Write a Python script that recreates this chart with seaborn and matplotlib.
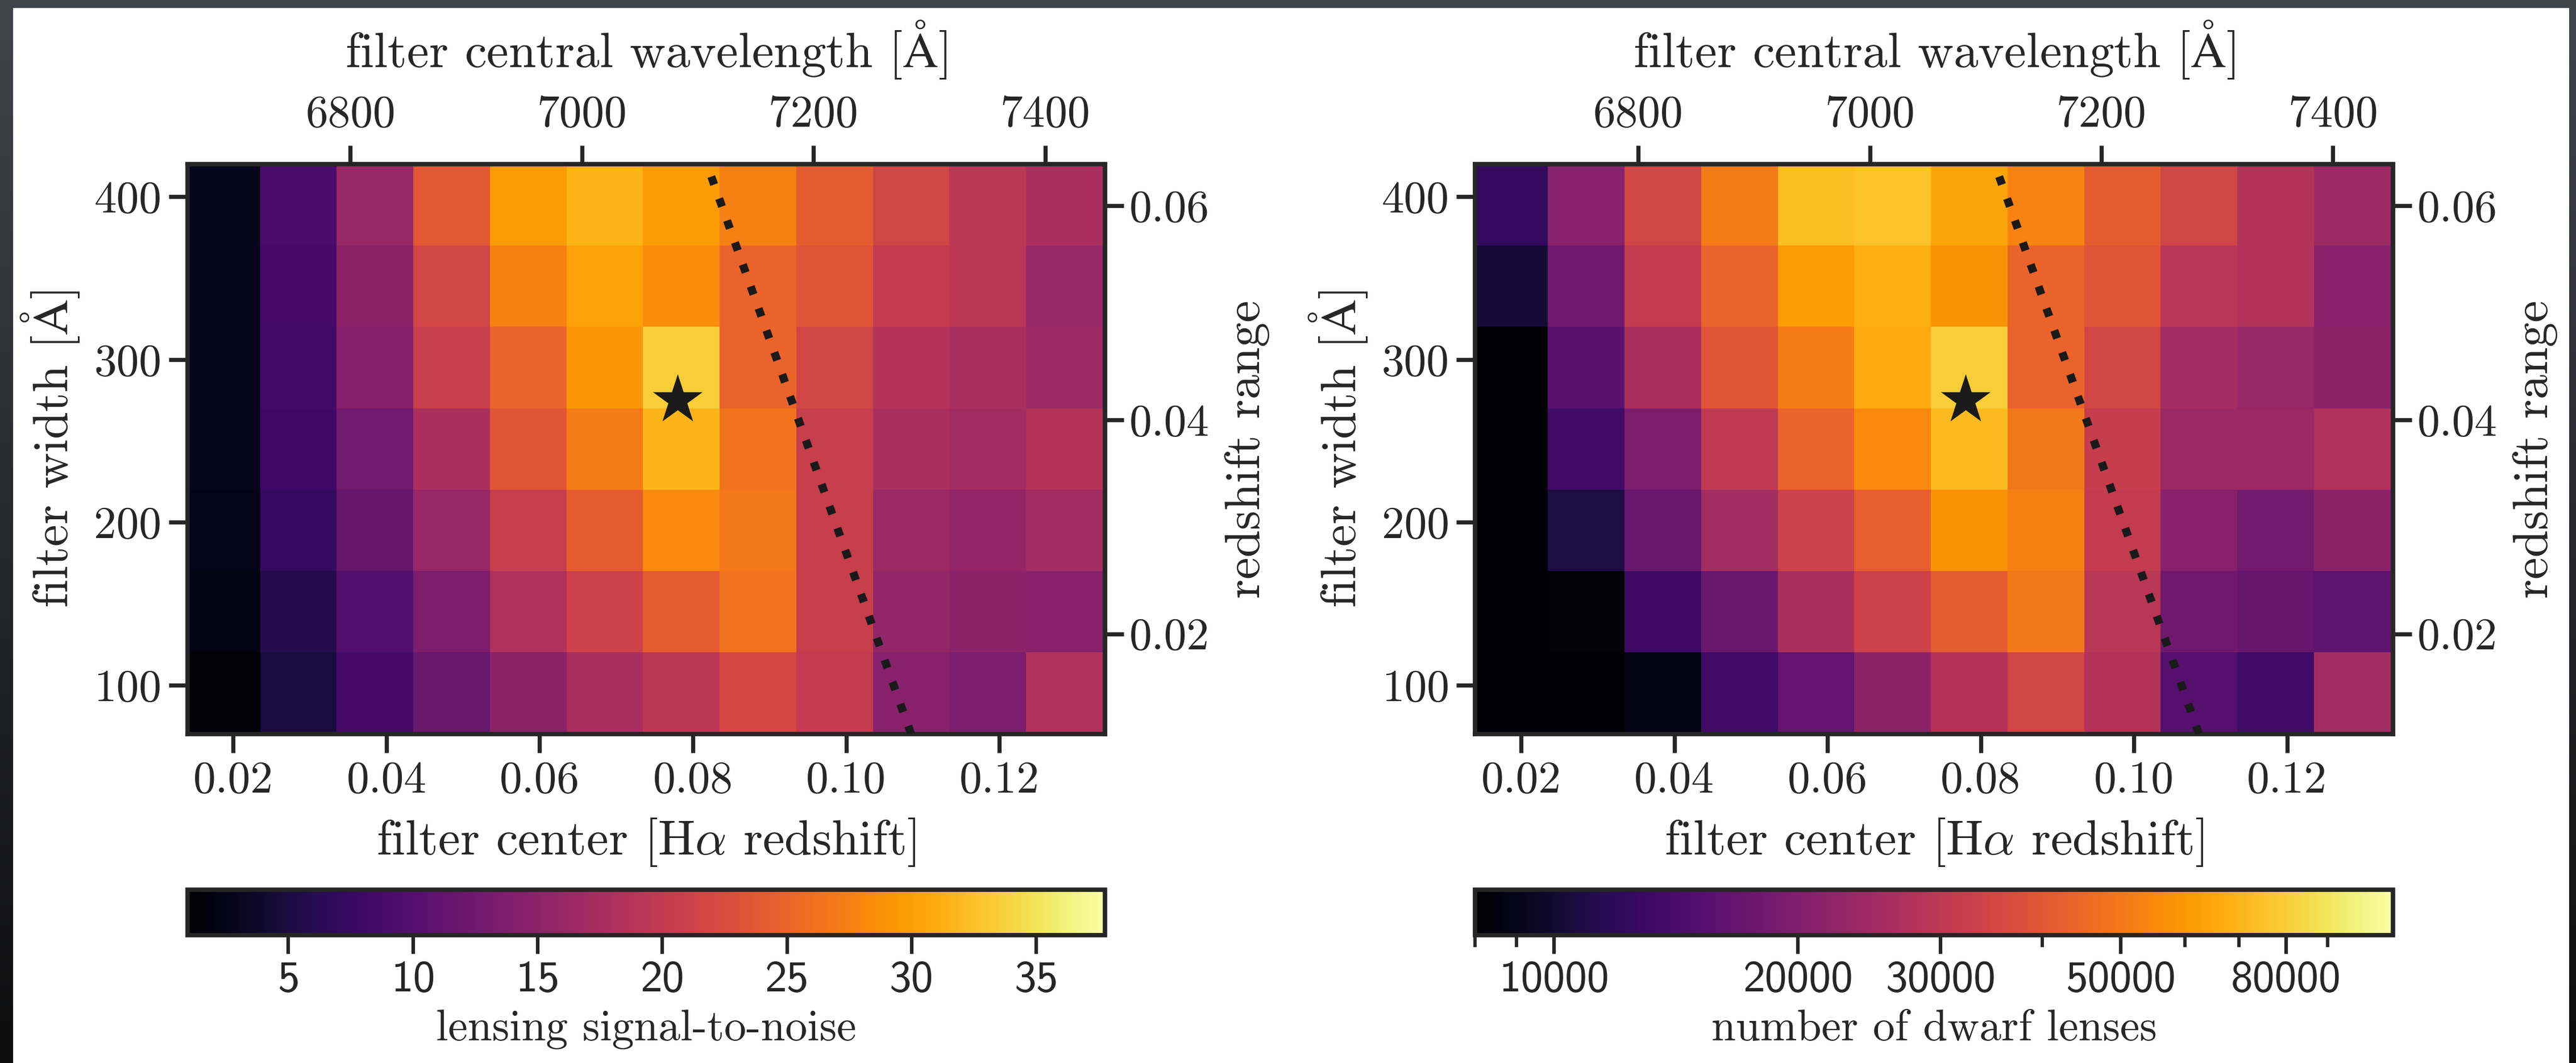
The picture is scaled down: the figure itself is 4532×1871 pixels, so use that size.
import numpy as np
import matplotlib
matplotlib.use("Agg")
import matplotlib.pyplot as plt
from matplotlib.colors import Normalize, LogNorm, LinearSegmentedColormap
from matplotlib.ticker import LogLocator, NullFormatter, NullLocator
from matplotlib.patches import Rectangle
from matplotlib.mathtext import MathTextParser
import seaborn as sns

# ------------------------------------------------------------------ data
z_centers = [0.0185, 0.0285, 0.0385, 0.0485, 0.0585, 0.0685,
             0.0785, 0.0885, 0.0985, 0.1085, 0.1185, 0.1285]
width_centers = [95, 145, 195, 245, 295, 345, 395]

# lensing S/N, rows = filter width (ascending), columns = filter centre
snr_rows = [
    [1.4, 4.7, 8.7, 12.0, 14.9, 17.5, 19.4, 21.9, 20.1, 14.6, 13.5, 18.2],
    [2.1, 5.8, 9.8, 13.5, 18.2, 21.2, 24.1, 26.3, 20.5, 15.7, 14.9, 14.6],
    [2.5, 7.2, 11.6, 16.0, 20.5, 24.1, 28.2, 26.7, 20.5, 16.4, 15.7, 17.1],
    [2.7, 8.0, 12.7, 17.9, 23.4, 27.1, 31.5, 26.3, 20.5, 17.9, 17.1, 18.6],
    [2.7, 8.3, 14.2, 20.5, 24.9, 29.3, 33.3, 24.9, 21.6, 18.6, 17.9, 16.4],
    [2.8, 8.7, 14.9, 21.6, 27.4, 30.0, 28.5, 24.9, 23.4, 20.1, 19.4, 16.0],
    [2.8, 9.1, 16.0, 23.8, 29.6, 31.5, 29.6, 27.4, 24.1, 21.6, 19.4, 17.9],
]

# number of dwarf lenses, same layout
ndwarf_rows = [
    [5800, 6100, 8800, 13400, 16500, 21500, 27900, 34400, 27900, 15300, 13400, 25100],
    [6300, 8200, 13100, 17400, 26500, 33500, 41300, 49500, 29400, 17900, 17000, 16100],
    [6500, 10900, 17400, 25100, 33500, 42400, 58000, 52200, 31000, 20900, 18300, 21500],
    [6800, 13400, 19300, 30200, 43500, 55000, 71400, 49500, 31800, 23800, 23800, 27200],
    [7000, 15700, 26500, 39200, 50900, 66000, 79300, 43500, 34400, 25100, 23200, 21500],
    [10300, 17900, 31000, 43500, 61100, 67800, 58000, 43500, 39200, 29400, 27900, 20900],
    [12400, 20900, 34400, 50900, 73300, 75300, 64300, 53600, 41300, 34400, 27900, 23800],
]

best_z = 0.078
best_width = 275.0
lam_halpha = 6563.0
lam_red_limit = 7310.0          # dotted line: filter red edge at this wavelength

z_view = (0.0140, 0.1338)
lam_offset, lam_per_z = 6566.6, 6615.0   # top axis mapping
width_per_dz = 6573.0                      # right axis mapping

snr_range = (0.95, 37.75)
ndwarf_range = (8000, 108300)

z_ticks = [0.02, 0.04, 0.06, 0.08, 0.10, 0.12]
z_ticklabels = ["0.02", "0.04", "0.06", "0.08", "0.10", "0.12"]
width_ticks = [100, 200, 300, 400]
width_ticklabels = ["100", "200", "300", "400"]
lam_ticks = [6800, 7000, 7200, 7400]
lam_ticklabels = ["6800", "7000", "7200", "7400"]
dz_ticks = [0.02, 0.04, 0.06]
dz_ticklabels = ["0.02", "0.04", "0.06"]
snr_cbar_ticks = [5, 10, 15, 20, 25, 30, 35]
snr_cbar_ticklabels = ["5", "10", "15", "20", "25", "30", "35"]
ndwarf_cbar_ticks = [10000, 20000, 30000, 50000, 80000]
ndwarf_cbar_ticklabels = ["10000", "20000", "30000", "50000", "80000"]

# Angstrom sign: prefer mathtext \AA, fall back to plain character
try:
    MathTextParser("path").parse(r"$\mathrm{\AA}$")
    ANG = r"$\mathrm{\AA}$"
except Exception:
    ANG = "Å"

xlabel = r"filter center [H$\alpha$ redshift]"
ylabel = "filter width [" + ANG + "]"
toplabel = "filter central wavelength [" + ANG + "]"
rightlabel = "redshift range"
snr_label = "lensing signal-to-noise"
ndwarf_label = "number of dwarf lenses"

# ------------------------------------------------------------------ style
TEXT = "#262626"
EDGE = "#262626"
MARK = "#1a1a1a"
sns.set_theme(style="ticks")
plt.rcParams.update({
    "font.family": ["cmr10", "DejaVu Serif"],
    "mathtext.fontset": "cm",
    "axes.unicode_minus": False,
    "axes.formatter.use_mathtext": True,
    "text.color": TEXT,
    "axes.labelcolor": TEXT,
    "xtick.color": EDGE,
    "ytick.color": EDGE,
    "axes.edgecolor": EDGE,
    "axes.linewidth": 1.85,
})

TICK_FS = 19.0
LABEL_FS = 20.9
CB_TICK_FS = 18.6
CB_LABEL_FS = 18.6

W, H = 4532, 1871
fig = plt.figure(figsize=(W / 300, H / 300), dpi=300)
fig.patch.set_facecolor("white")

# screenshot frame around the figure
bg = fig.add_axes([0, 0, 1, 1], zorder=-20)
bg.axis("off")
frame_cmap = LinearSegmentedColormap.from_list("frame", ["#41444a", "#0d0d0e"])
grad = np.linspace(0, 1, 256).reshape(-1, 1)
bg.imshow(grad, cmap=frame_cmap, extent=(0, 23, H, 0), aspect="auto")
bg.imshow(grad, cmap=frame_cmap, extent=(4520, W, H, 0), aspect="auto")
bg.add_patch(Rectangle((0, 0), W, 14, color="#404349", lw=0))
bg.set_xlim(0, W)
bg.set_ylim(H, 0)

ax_rects = [[0.07273, 0.30962, 0.35622, 0.53592],
            [0.57268, 0.30962, 0.35622, 0.53592]]
cax_rects = [[0.07273, 0.12052, 0.35622, 0.04276],
             [0.57268, 0.12052, 0.35622, 0.04276]]


def style_ticks(a, axis="both", pad=3.0):
    a.tick_params(axis=axis, which="major", direction="out", length=7.9, width=1.75,
                  color=EDGE, labelsize=TICK_FS, labelcolor=TEXT, pad=pad)


def draw_panel(idx, values, norm, cb_label, cb_ticks, cb_ticklabels, log_bar):
    ax = fig.add_axes(ax_rects[idx])
    cax = fig.add_axes(cax_rects[idx])
    z = np.asarray(z_centers, float)
    w = np.asarray(width_centers, float)
    dz = np.diff(z).mean()
    dw = np.diff(w).mean()
    z_edges = np.append(z - dz / 2, z[-1] + dz / 2)
    w_edges = np.append(w - dw / 2, w[-1] + dw / 2)
    mesh = ax.pcolormesh(z_edges, w_edges, np.asarray(values, float),
                         cmap="inferno", norm=norm, shading="flat")
    ax.set_xlim(*z_view)
    ax.set_ylim(w_edges[0], w_edges[-1])

    # red-edge limit line and best filter
    w_line = np.array([w_edges[0], w_edges[-1]])
    z_line = (lam_red_limit - w_line / 2) / lam_halpha - 1
    sns.lineplot(x=z_line, y=w_line, ax=ax, color=MARK, linewidth=3.4,
                 linestyle=(0, (1.05, 1.85)), sort=False, estimator=None, zorder=4)
    sns.scatterplot(x=[best_z], y=[best_width], ax=ax, marker="*", s=22 ** 2,
                    color=MARK, edgecolor=MARK, linewidth=0, zorder=5)

    ax.set_xticks(z_ticks, labels=z_ticklabels)
    ax.set_yticks(width_ticks, labels=width_ticklabels)
    style_ticks(ax, "x", pad=3.5)
    style_ticks(ax, "y", pad=3.0)
    ax.set_xlabel(xlabel, fontsize=LABEL_FS, labelpad=6.3)
    ax.set_ylabel(ylabel, fontsize=LABEL_FS, labelpad=5.4)
    for sp in ax.spines.values():
        sp.set_linewidth(1.85)
        sp.set_color(EDGE)

    top = ax.secondary_xaxis("top", functions=(lambda x: lam_offset + lam_per_z * x,
                                               lambda l: (l - lam_offset) / lam_per_z))
    top.set_xticks(lam_ticks, labels=lam_ticklabels)
    style_ticks(top, "x", pad=4.0)
    top.set_xlabel(toplabel, fontsize=LABEL_FS, labelpad=12.0)
    top.spines["top"].set_linewidth(1.85)

    right = ax.secondary_yaxis("right", functions=(lambda y: y / width_per_dz,
                                                   lambda d: d * width_per_dz))
    right.set_yticks(dz_ticks, labels=dz_ticklabels)
    style_ticks(right, "y", pad=2.5)
    right.set_ylabel(rightlabel, fontsize=LABEL_FS, labelpad=6.4)
    right.spines["right"].set_linewidth(1.85)

    cb = fig.colorbar(mesh, cax=cax, orientation="horizontal")
    cb.outline.set_linewidth(1.85)
    cb.outline.set_edgecolor(EDGE)
    cb.set_ticks(cb_ticks, labels=cb_ticklabels)
    if log_bar:
        cax.xaxis.set_minor_locator(LogLocator(base=10, subs=np.arange(2, 10)))
        cax.xaxis.set_minor_formatter(NullFormatter())
        cax.tick_params(axis="x", which="minor", length=5.0, width=1.4, color=EDGE)
    else:
        cax.xaxis.set_minor_locator(NullLocator())
    cax.tick_params(axis="x", which="major", direction="out", length=7.9, width=1.5,
                    color=EDGE, labelsize=CB_TICK_FS, labelcolor=TEXT, pad=3.0)
    for t in cax.get_xticklabels():
        t.set_fontfamily("cmss10")
    cb.set_label(cb_label, fontsize=CB_LABEL_FS, labelpad=4)
    return ax


draw_panel(0, snr_rows, Normalize(*snr_range), snr_label,
           snr_cbar_ticks, snr_cbar_ticklabels, False)
draw_panel(1, ndwarf_rows, LogNorm(*ndwarf_range), ndwarf_label,
           ndwarf_cbar_ticks, ndwarf_cbar_ticklabels, True)

fig.savefig("out.png", dpi=300, facecolor="white")
